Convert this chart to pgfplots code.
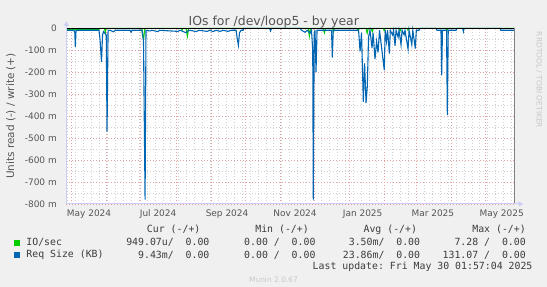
\documentclass[border=0pt]{standalone}
\usepackage{pgfplots}
\pgfplotsset{compat=1.18}
\usepackage{pgfplotstable}
\usepackage{fontspec}
\setmainfont{DejaVu Sans}
\setmonofont{DejaVu Sans Mono}
\usetikzlibrary{arrows.meta}
\definecolor{bg}{RGB}{240,240,240}
\definecolor{txt}{RGB}{85,85,85}
\definecolor{legtxt}{RGB}{60,60,60}
\definecolor{mgrid}{RGB}{228,160,160}
\definecolor{ngrid}{RGB}{208,208,208}
\definecolor{axc}{RGB}{205,205,245}
\definecolor{iog}{RGB}{0,204,0}
\definecolor{reqb}{RGB}{0,102,179}
\definecolor{faint}{RGB}{200,200,200}

% IO/sec (read side, milli-units), x = days since 1 May 2024
\pgfplotstableread{
x y
-4.8 -5
24.1 -5
24.5 0
29.0 0
29.6 -20
30.3 0
62.0 0
62.8 -40
63.6 -45
64.3 -10
65.0 0
96.8 0
97.5 -8
98.2 0
101.0 0
102.2 -35
103.2 0
209.0 0
209.9 -35
210.8 -5
211.7 0
222.0 0
223.2 -20
224.3 0
230.5 0
231.3 -15
232.2 0
252.0 0
253.0 -10
254.0 0
260.0 0
261.0 -22
262.0 0
264.5 0
265.5 -15
266.5 0
275.0 0
276.0 -10
277.0 0
289.0 0
290.0 -12
291.0 0
296.0 0
297.0 -8
298.0 0
330.5 0
331.3 -12
332.0 0
391.4 0
}\greendata

% Req Size (KB) (read side, milli-units)
\pgfplotstableread{
x y
-4.8 -9
2.0 -9
2.7 -20
3.2 -85
3.8 -9
24.1 -9
25.0 -50
26.3 -153
27.2 -30
28.1 -15
30.5 -30
31.2 -470
32.1 -10
33.9 -9
36.9 -16
38.3 -9
51.5 -9
52.4 -18
53.3 -9
62.1 -9
63.4 -60
64.8 -780
65.6 -10
69.2 -12
70.9 -9
76.2 -15
77.6 -9
93.9 -14
95.7 -9
101.0 -20
102.7 -12
104.5 -9
109.9 -15
112.5 -9
119.5 -14
122.2 -9
124.8 -15
127.5 -9
131.0 -14
133.7 -9
138.1 -14
140.8 -9
145.2 -9
146.0 -40
147.2 -77
148.2 -20
149.6 -9
151.4 -9
152.1 0
174.7 0
175.6 -12
176.5 0
201.7 0
203.0 -9
206.1 -18
207.9 -9
210.5 -22
211.8 -9
212.9 -100
213.4 -780
214.2 -30
214.9 -9
215.8 -199
216.7 -9
229.5 -9
230.2 -133
231.0 -9
253.4 -9
254.7 -105
256.0 -20
257.6 -335
258.7 -160
260.0 -340
261.1 -265
262.2 -40
263.5 -9
265.3 -90
266.2 -20
267.9 -140
269.3 -60
270.6 -110
271.9 -9
276.1 -190
276.9 -9
278.1 -60
279.0 -9
280.6 -115
281.4 -9
283.4 -30
284.3 -9
285.6 -80
286.5 -9
288.3 -40
289.1 -9
290.9 -75
291.8 -9
293.6 -30
294.4 -9
297.1 -95
298.0 -9
300.4 -74
301.3 -9
303.5 -92
304.4 -9
306.8 -9
307.7 0
321.8 0
322.7 -9
326.2 -9
326.8 -214
327.5 -9
331.1 -9
331.8 -395
332.6 -9
339.5 -9
340.4 0
345.3 0
346.0 -15
346.6 0
378.4 0
379.1 -9
391.4 -9
}\bluedata

\newcommand\legfont{\ttfamily\fontsize{9.9}{11}\selectfont}

\begin{document}
\begin{tikzpicture}
\useasboundingbox (0,0) rectangle (547bp,287bp);
\fill[bg] (0,0) rectangle (547bp,287bp);
\begin{axis}[
  at={(66.3bp,83bp)}, anchor=south west,
  scale only axis, width=448.5bp, height=175.7bp,
  xmin=-4.8, xmax=391.4, ymin=-800, ymax=0,
  clip=false,
  axis background/.style={fill=white},
  axis line style={draw=none},
  xtick={0,31,61,92,123,153,184,214,245,276,304,335,365},
  xticklabels={},
  minor xtick={-3.5,3.5,...,389.5},
  extra x ticks={15.3,76.3,137.2,197.3,257,319,379.8},
  extra x tick labels={May 2024,Jul 2024,Sep 2024,Nov 2024,Jan 2025,Mar 2025,May 2025},
  extra x tick style={grid=none},
  ytick={-800,-700,...,0},
  yticklabels={-800 m,-700 m,-600 m,-500 m,-400 m,-300 m,-200 m,-100 m,0\hspace{3bp}},
  minor ytick={-750,-650,...,-50},
  grid=both,
  major grid style={mgrid, line width=0.7bp, dash pattern=on 1bp off 2bp},
  minor grid style={ngrid, line width=0.7bp, dash pattern=on 1bp off 2bp},
  tick style={draw=none},
  ticklabel style={font=\fontsize{9}{10}\selectfont, text=txt},
  xticklabel style={anchor=base, yshift=-13bp},
  yticklabel style={anchor=east, xshift=-6bp},
]
\addplot[iog, line width=1.1bp] table {\greendata};
\addplot[reqb, line width=1.1bp] table {\bluedata};
\addplot[black, line width=0.9bp] coordinates {(-4.8,0) (391.4,0)};
\addplot[gray, line width=1bp] coordinates {(391.4,0) (391.4,-800)};
\end{axis}
% axes with arrows
\draw[axc, line width=1bp, -{Triangle[width=5bp,length=5bp]}] (66.3bp,83bp) -- (66.3bp,266bp);
\draw[axc, line width=1bp, -{Triangle[width=5bp,length=5bp]}] (66.3bp,83bp) -- (523.5bp,83bp);
% title
\node[anchor=base, font=\fontsize{12.5}{14}\selectfont, text=txt, inner sep=0] at (273.8bp,261.5bp) {IOs for /dev/loop5 - by year};
% y label
\node[rotate=90, font=\fontsize{10.5}{12}\selectfont, text=txt, inner sep=0] at (10.8bp,171bp) {Units read (-) / write (+)};
% rrdtool watermark
\node[rotate=-90, font=\fontsize{7.5}{9}\selectfont, text=faint, inner sep=0] at (539bp,207bp) {RRDTOOL / TOBI OETIKER};
% legend
\begin{scope}[every node/.style={inner sep=0, font=\legfont, text=legtxt}]
\node[anchor=east] at (200.6bp,57.1bp) {Cur (-/+)};
\node[anchor=east] at (309bp,57.1bp) {Min (-/+)};
\node[anchor=east] at (417.2bp,57.1bp) {Avg (-/+)};
\node[anchor=east] at (526bp,57.1bp) {Max (-/+)};
\fill[iog] (14bp,41.4bp) rectangle (19.5bp,47bp);
\node[anchor=west] at (26.2bp,44.5bp) {IO/sec};
\node[anchor=east] at (209.6bp,44.5bp) {949.07u/\ \ 0.00};
\node[anchor=east] at (315.7bp,44.5bp) {0.00 /\ \ 0.00};
\node[anchor=east] at (420.3bp,44.5bp) {3.50m/\ \ 0.00};
\node[anchor=east] at (526bp,44.5bp) {7.28 /\ \ 0.00};
\fill[reqb] (14bp,28.9bp) rectangle (19.5bp,34.8bp);
\node[anchor=west] at (26.2bp,32bp) {Req Size (KB)};
\node[anchor=east] at (209.6bp,32bp) {9.43m/\ \ 0.00};
\node[anchor=east] at (315.7bp,32bp) {0.00 /\ \ 0.00};
\node[anchor=east] at (420.3bp,32bp) {23.86m/\ \ 0.00};
\node[anchor=east] at (526bp,32bp) {131.07 /\ \ 0.00};
\node[anchor=east] at (532.6bp,19.8bp) {Last update: Fri May 30 01:57:04 2025};
\end{scope}
\node[font=\fontsize{7.5}{9}\selectfont, text=faint, inner sep=0] at (273.5bp,7bp) {Munin 2.0.67};
\end{tikzpicture}
\end{document}
